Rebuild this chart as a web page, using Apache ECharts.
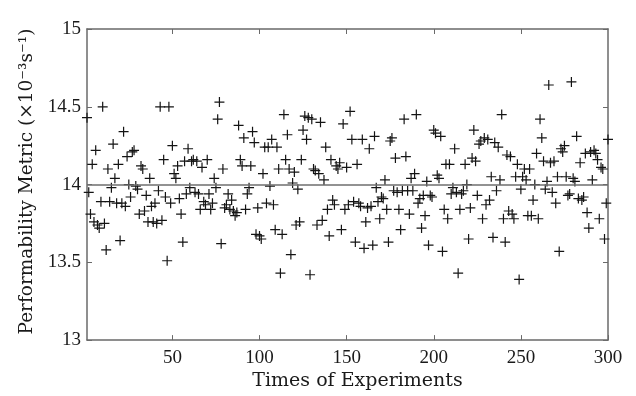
<!DOCTYPE html>
<html>
<head>
<meta charset="utf-8">
<script src="https://cdn.jsdelivr.net/npm/echarts@6/dist/echarts.min.js"></script>
<style>
  html, body { margin: 0; padding: 0; background: #fff; }
  #chart { width: 636px; height: 396px; }
</style>
</head>
<body>
<div id="chart"></div>
<script>
// x ticks / y ticks
const xTicks = [50, 100, 150, 200, 250, 300]
const yRange = [13, 15]
const referenceLevel = 14

const metric = [
  14.43, 13.95, 13.81, 14.13, 13.76, 14.22, 13.74, 13.72, 13.89, 14.50,
  13.75, 13.58, 14.10, 13.89, 13.98, 14.26, 14.04, 13.88, 14.13, 13.64,
  13.88, 14.34, 13.86, 14.18, 14.00, 13.92, 14.21, 14.22, 13.99, 13.97,
  13.81, 14.12, 14.10, 13.83, 13.93, 13.76, 14.04, 13.86, 13.76, 13.88,
  13.75, 13.96, 14.50, 13.77, 14.16, 13.92, 13.51, 14.50, 13.88, 14.25,
  14.07, 14.04, 14.12, 13.91, 13.81, 13.63, 14.15, 13.94, 14.23, 13.98,
  14.15, 14.16, 13.95, 14.15, 13.94, 13.84, 14.11, 13.89, 13.87, 14.16,
  13.94, 13.84, 13.88, 14.04, 13.98, 14.42, 14.53, 13.62, 14.10, 13.85,
  13.87, 13.94, 13.84, 13.90, 13.83, 13.80, 13.82, 14.38, 14.16, 14.12,
  14.30, 13.84, 13.94, 13.98, 14.12, 14.34, 14.27, 13.68, 13.85, 13.67,
  13.65, 14.07, 14.24,
  13.88, 14.24, 13.99, 14.29, 13.87, 13.71, 14.24, 14.10, 13.43, 13.68,
  14.45, 14.16, 14.32, 14.10, 13.55, 14.01, 14.08, 13.74, 13.97, 13.76,
  14.16, 14.35, 14.44, 14.29, 14.43, 13.42, 14.42, 14.10, 14.09, 13.74,
  14.07, 14.40, 13.77, 14.03, 14.24, 13.84, 13.67, 14.16, 13.90, 13.87,
  14.12, 14.10, 14.14, 13.71, 14.39, 13.84, 14.11, 13.87, 14.47, 14.29,
  13.89, 13.63,
  14.13, 13.88, 13.86, 14.29, 13.59, 13.76, 13.85, 14.23, 13.86, 13.61,
  14.31, 13.98, 13.89, 13.78, 13.92, 13.91, 14.03, 13.84, 13.63, 14.28,
  14.30, 13.96, 14.17, 13.95, 13.84, 13.71, 13.96, 14.42, 14.18, 13.96,
  13.81, 14.04, 13.96, 14.07, 14.45, 13.88, 13.91, 13.72, 13.93, 13.80,
  14.02, 13.61, 13.93, 13.92, 14.35, 14.33, 14.06, 14.04, 14.31, 13.57,
  13.84, 14.13, 13.78, 14.13, 13.94, 13.98, 14.23, 13.95, 13.43, 13.84,
  13.94, 13.96, 14.13, 14.00, 13.65, 13.85, 14.17, 14.35, 14.15, 13.93,
  14.26, 14.28, 13.78, 14.30, 13.87, 14.29, 13.90, 14.05, 13.66, 14.27,
  13.96, 14.24, 14.03, 14.45, 13.78, 13.63, 14.19, 13.83, 14.18, 13.81,
  13.78, 14.05, 14.13, 13.39, 13.97, 14.05, 14.10, 14.03, 13.80, 14.10,
  13.80, 13.90, 14.00, 14.20, 13.78,
  14.42, 14.30, 14.15, 13.97, 14.02, 14.64, 14.14, 13.95, 14.15, 13.88,
  14.05, 13.57, 14.23, 14.21, 14.25, 14.05, 13.93, 13.94, 14.66, 14.04,
  14.02, 14.31, 13.91, 14.14, 13.90, 13.92, 14.20, 13.82, 13.72, 14.21,
  14.03, 14.22, 14.20, 14.16, 13.78, 14.11, 14.10, 13.65, 13.88, 14.29
]

const chart = echarts.init(document.getElementById('chart'), null, { renderer: 'canvas' })

const axisColor = '#6a6a6a'
const serif = 'Liberation Serif'
const wideSerif = 'DejaVu Serif'

// plus marker, drawn as a thin filled cross
const plus = 'path://M8.8,0h2.4v8.8h8.8v2.4h-8.8v8.8h-2.4v-8.8h-8.8v-2.4h8.8z'

const boxAxis = (extra) => Object.assign({
  type: 'value',
  axisLine: { show: true, lineStyle: { color: axisColor, width: 1.5 } },
  axisTick: { show: true, inside: true, length: 5, lineStyle: { color: axisColor, width: 1 } },
  splitLine: { show: false }
}, extra)

const option = {
  animation: false,
  backgroundColor: '#fff',
  grid: { left: 87, right: 28, top: 29, bottom: 54 },
  xAxis: [
    boxAxis({
      min: 1, max: 300,
      position: 'bottom',
      axisTick: { show: true, inside: true, length: 5, customValues: xTicks, lineStyle: { color: axisColor } },
      axisLabel: { customValues: xTicks, fontFamily: serif, fontSize: 19, color: '#1a1a1a', margin: 8 },
      name: 'Times of Experiments',
      nameLocation: 'middle',
      nameGap: 26,
      nameTextStyle: { fontFamily: wideSerif, fontSize: 19, color: '#1a1a1a', padding: [0, 0, 0, 20] }
    }),
    boxAxis({
      min: 1, max: 300,
      position: 'top',
      axisTick: { show: true, inside: true, length: 5, customValues: xTicks.slice(0, 5), lineStyle: { color: axisColor } },
      axisLabel: { show: false }
    })
  ],
  yAxis: [
    boxAxis({
      min: yRange[0], max: yRange[1], interval: 0.5,
      position: 'left',
      axisLabel: { fontFamily: serif, fontSize: 19, color: '#1a1a1a', margin: 6 },
      name: 'Performability Metric (×10⁻³s⁻¹)',
      nameLocation: 'middle',
      nameRotate: 90,
      nameGap: 50,
      nameTextStyle: { fontFamily: wideSerif, fontSize: 18.5, color: '#1a1a1a', padding: [0, 0, 0, 6] }
    }),
    boxAxis({
      min: yRange[0], max: yRange[1], interval: 0.5,
      position: 'right',
      axisLabel: { show: false }
    })
  ],
  series: [
    {
      type: 'scatter',
      xAxisIndex: 0,
      yAxisIndex: 0,
      symbol: plus,
      symbolSize: 10,
      itemStyle: { color: '#141414', opacity: 1 },
      data: metric.map((v, k) => [k + 1, v]),
      markLine: {
        silent: true,
        symbol: 'none',
        label: { show: false },
        lineStyle: { color: '#6e6e6e', width: 1.6, type: 'solid' },
        data: [{ yAxis: referenceLevel }]
      }
    }
  ]
}

chart.setOption(option)
</script>
</body>
</html>
